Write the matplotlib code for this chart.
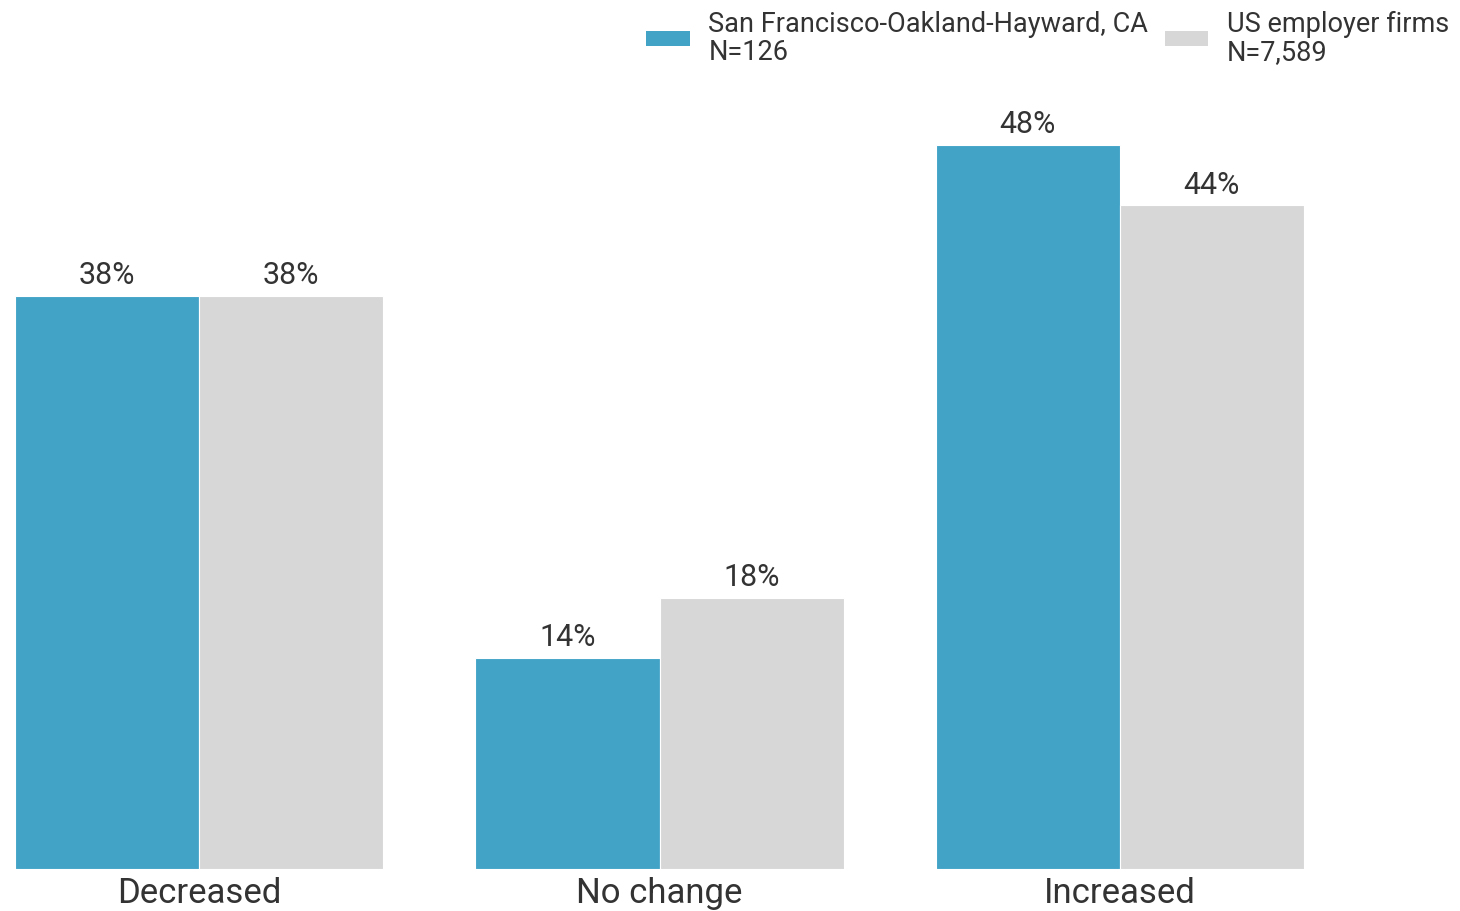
import matplotlib
matplotlib.use("Agg")
import matplotlib.pyplot as plt
from matplotlib.patches import Patch
import numpy as np

plt.rcParams['font.family'] = ['Roboto', 'DejaVu Sans']

categories = ["Decreased", "No change", "Increased"]
series_names = ["San Francisco-Oakland-Hayward, CA\nN=126", "US employer firms\nN=7,589"]
sf_values = [38, 14, 48]
us_values = [38, 18, 44]
colors = ["#42A3C7", "#D7D7D7"]

fig = plt.figure(figsize=(14.6, 9.12), dpi=100)
ax = fig.add_axes([15/1460, 42/912, (1304-15)/1460, 0.90])

x = np.arange(len(categories))
w = 0.4
b1 = ax.bar(x - w/2, sf_values, width=w, color=colors[0], edgecolor="white", linewidth=0.8)
b2 = ax.bar(x + w/2, us_values, width=w, color=colors[1], edgecolor="white", linewidth=0.8)

for bars, vals in ((b1, sf_values), (b2, us_values)):
    for rect, v in zip(bars, vals):
        ax.annotate(f"{v}%", (rect.get_x() + rect.get_width()/2, rect.get_height()),
                    xytext=(0, 5), textcoords="offset points", ha="center", va="bottom",
                    fontsize=22, color="#333333")

ax.set_xlim(-0.4, 2.4)
ax.set_ylim(0, 870/15.08 * 0.90 * 912/870)
ax.set_xticks(x)
ax.set_xticklabels(categories, fontsize=25, color="#333333")
ax.tick_params(axis="x", length=0, pad=5)
ax.set_yticks([])
for s in ax.spines.values():
    s.set_visible(False)

handles = [Patch(facecolor=c, edgecolor="none") for c in colors]
leg = fig.legend(handles, series_names, loc="upper right", bbox_to_anchor=(1.0, 1.0),
                 ncol=2, frameon=False, fontsize=19.5, handlelength=1.6, handleheight=0.5,
                 handletextpad=0.7, columnspacing=0.6, borderaxespad=0.0)
for t in leg.get_texts():
    t.set_color("#333333")
    t.set_linespacing(1.05)

fig.savefig("out.png", dpi=100)
